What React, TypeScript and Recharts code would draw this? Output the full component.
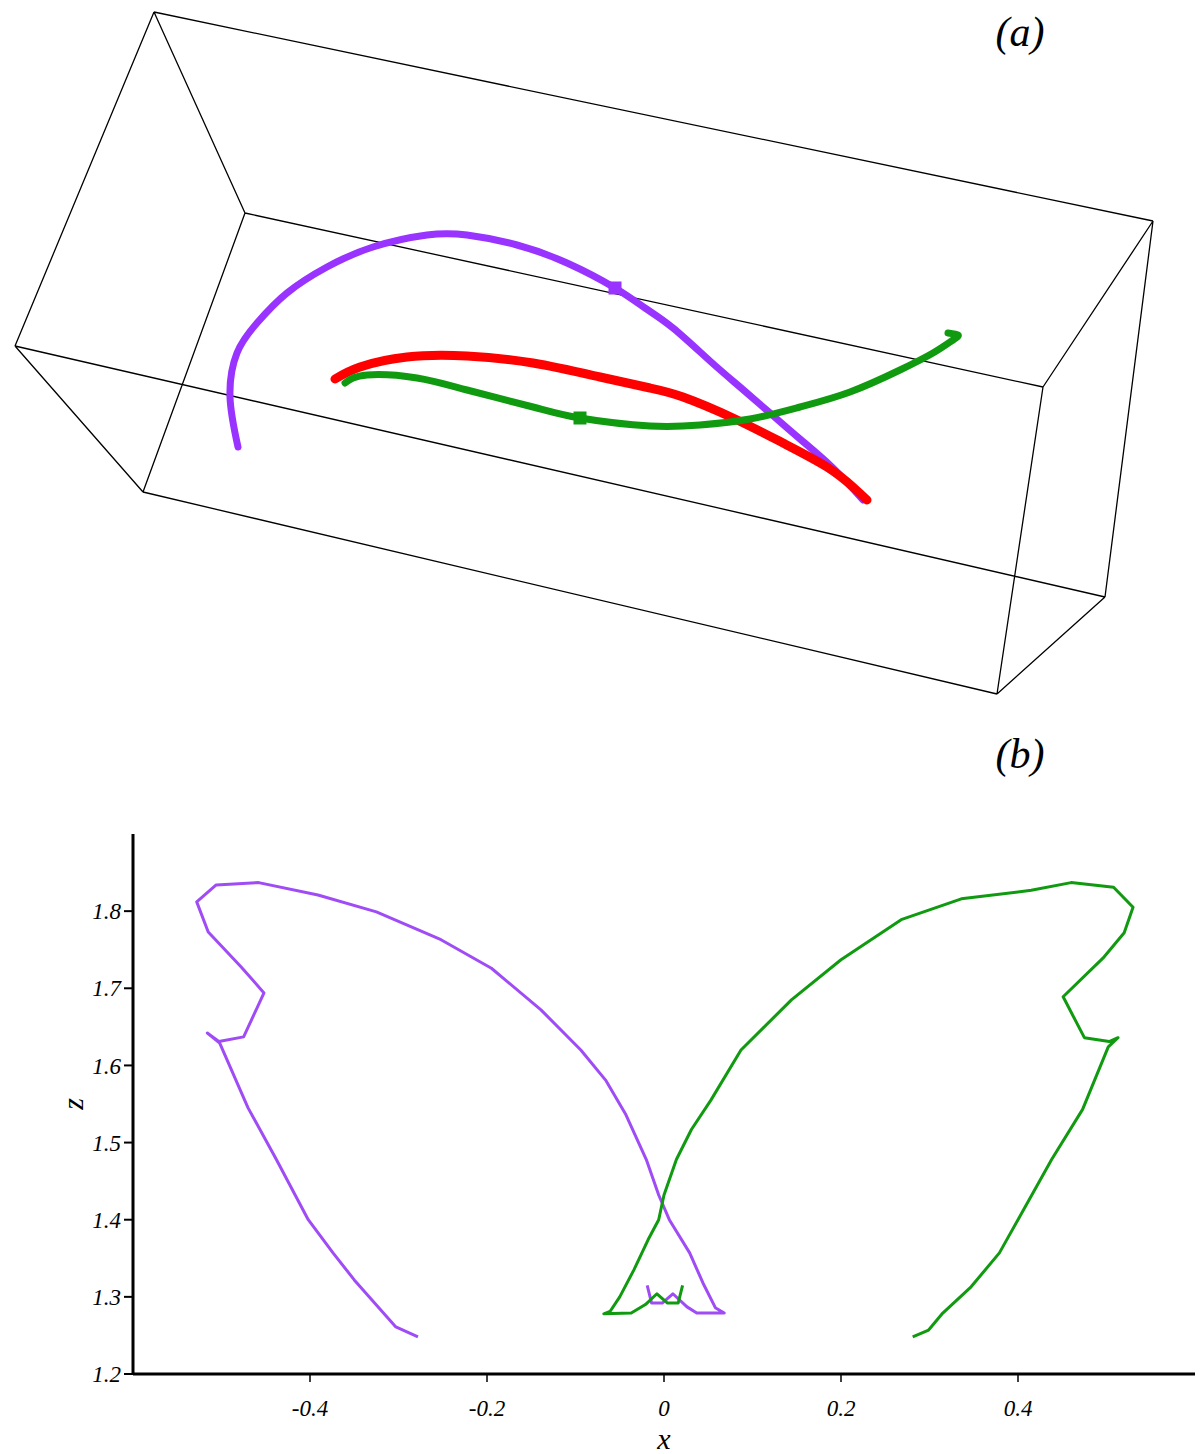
import { ComposedChart, Line, Scatter, XAxis, YAxis } from 'recharts';

// ---- (a): wire box and the three trajectories, in the projected picture plane ----
const boxCorners: Record<string, [number, number]> = {
  A: [154, 12],
  B: [245, 213],
  C: [15, 346],
  D: [143, 492],
  E: [1153, 221],
  F: [1043, 387],
  G: [1105, 597],
  H: [997, 694],
};
const boxEdges = [
  ['A', 'E'], ['B', 'F'], ['C', 'G'], ['D', 'H'],
  ['A', 'B'], ['B', 'D'], ['D', 'C'], ['C', 'A'],
  ['E', 'F'], ['F', 'H'], ['H', 'G'], ['G', 'E'],
];

const purpleA: [number, number][] = [
  [238, 447], [230, 397], [237, 353], [257, 323], [287, 293], [327, 267], [373, 247],
  [427, 235], [467, 235], [517, 245], [567, 263], [615, 288], [645, 308], [673, 328],
  [710, 361], [740, 387], [770, 413], [800, 439], [833, 468], [863, 500],
];
const redA: [number, number][] = [
  [335, 379], [360, 367], [407, 357], [467, 356], [533, 363], [600, 377], [650, 388],
  [683, 397], [733, 418], [783, 443], [827, 467], [853, 487], [867, 500],
];
const greenA: [number, number][] = [
  [345, 383], [367, 375], [417, 378], [467, 390], [533, 407], [580, 418], [650, 426],
  [700, 425], [750, 419], [800, 407], [850, 392], [900, 370], [933, 353], [953, 340],
  [958, 335], [948, 333],
];
const purpleMarkA: [number, number][] = [[615, 288]];
const greenMarkA: [number, number][] = [[580, 418]];

// ---- (b): x–z projection ----
const xTicks = [-0.4, -0.2, 0, 0.2, 0.4];
const zTicks = [1.2, 1.3, 1.4, 1.5, 1.6, 1.7, 1.8];

const purpleB: [number, number][] = [
  [-0.278, 1.248], [-0.303, 1.261], [-0.327, 1.292], [-0.35, 1.322], [-0.374, 1.357],
  [-0.402, 1.4], [-0.438, 1.478], [-0.47, 1.545], [-0.502, 1.629], [-0.516, 1.642],
  [-0.503, 1.631], [-0.475, 1.637], [-0.452, 1.694], [-0.478, 1.728], [-0.515, 1.773],
  [-0.528, 1.812], [-0.506, 1.834], [-0.458, 1.837], [-0.391, 1.821], [-0.325, 1.799],
  [-0.252, 1.763], [-0.195, 1.726], [-0.139, 1.672], [-0.094, 1.62], [-0.066, 1.581],
  [-0.043, 1.536], [-0.02, 1.478], [-0.006, 1.432], [0.006, 1.4], [0.029, 1.357],
  [0.044, 1.318], [0.058, 1.286], [0.068, 1.279], [0.037, 1.279], [0.026, 1.287],
  [0.01, 1.304], [-0.002, 1.292], [-0.014, 1.292], [-0.019, 1.315],
];
const greenB: [number, number][] = [
  [0.281, 1.248], [0.299, 1.257], [0.315, 1.279], [0.347, 1.313], [0.379, 1.357],
  [0.4, 1.4], [0.438, 1.478], [0.473, 1.543], [0.502, 1.624], [0.513, 1.636],
  [0.503, 1.631], [0.475, 1.636], [0.451, 1.689], [0.496, 1.739], [0.52, 1.772],
  [0.53, 1.805], [0.508, 1.831], [0.46, 1.837], [0.415, 1.827], [0.336, 1.816],
  [0.268, 1.789], [0.2, 1.737], [0.144, 1.685], [0.087, 1.62], [0.053, 1.555],
  [0.031, 1.517], [0.014, 1.478], [0, 1.432], [-0.006, 1.4], [-0.018, 1.374],
  [-0.034, 1.335], [-0.05, 1.3], [-0.061, 1.281], [-0.068, 1.278], [-0.037, 1.279],
  [-0.021, 1.29], [-0.008, 1.304], [0.004, 1.292], [0.016, 1.292], [0.021, 1.315],
];

const PURPLE_A = '#9933ff';
const PURPLE_B = '#a04cf6';
const GREEN = '#109a10';
const RED = '#ff0000';
const SERIF = '"Liberation Serif", "Times New Roman", serif';

const toPx = (pts: [number, number][]) => pts.map(([px, py]) => ({ px, py }));
const toXZ = (pts: [number, number][]) => pts.map(([x, z]) => ({ x, z }));

// edges joined into one series, broken by null rows
const boxRows = boxEdges.flatMap(([p, q]) => {
  const [x1, y1] = boxCorners[p];
  const [x2, y2] = boxCorners[q];
  return [{ px: x1, py: y1 }, { px: x2, py: y2 }, { px: x2, py: null }];
});

const squareMark = (size: number, color: string) => (props: any) => (
  <rect x={props.cx - size / 2} y={props.cy - size / 2} width={size} height={size} fill={color} />
);

const tickStyle = { fill: '#000', fontSize: 23, fontFamily: SERIF, fontStyle: 'italic' };

const ZLabel = (props: any) => {
  const { viewBox } = props;
  const x = viewBox.x;
  const y = viewBox.y + viewBox.height / 2;
  return (
    <text x={x} y={y} dy={10} transform={`rotate(-90, ${x}, ${y})`} textAnchor="middle"
      fontSize={30} fontFamily={SERIF} fontStyle="italic" fill="#000">
      z
    </text>
  );
};

const panelTag = { position: 'absolute' as const, width: 120, textAlign: 'center' as const,
  fontFamily: SERIF, fontStyle: 'italic', fontSize: 42, lineHeight: '42px', color: '#000' };

export default function App() {
  return (
    <div style={{ position: 'absolute', left: 0, top: 0, width: 1200, height: 1454, background: '#fff' }}>
      <div style={{ position: 'absolute', left: 0, top: 0 }}>
        <ComposedChart width={1200} height={720} margin={{ top: 0, right: 0, bottom: 0, left: 0 }}>
          <XAxis type="number" dataKey="px" domain={[0, 1200]} hide allowDataOverflow />
          <YAxis type="number" dataKey="py" domain={[0, 720]} reversed hide allowDataOverflow />
          <Line data={boxRows} dataKey="py" type="linear" stroke="#000" strokeWidth={1.3}
            dot={false} activeDot={false} isAnimationActive={false} connectNulls={false} />
          <Line data={toPx(purpleA)} dataKey="py" type="natural" stroke={PURPLE_A} strokeWidth={7}
            strokeLinecap="round" dot={false} activeDot={false} isAnimationActive={false} />
          <Scatter data={toPx(purpleMarkA)} dataKey="py" shape={squareMark(13, PURPLE_A)}
            isAnimationActive={false} />
          <Line data={toPx(redA)} dataKey="py" type="natural" stroke={RED} strokeWidth={9}
            strokeLinecap="round" dot={false} activeDot={false} isAnimationActive={false} />
          <Line data={toPx(greenA)} dataKey="py" type="natural" stroke={GREEN} strokeWidth={7}
            strokeLinecap="round" dot={false} activeDot={false} isAnimationActive={false} />
          <Scatter data={toPx(greenMarkA)} dataKey="py" shape={squareMark(13, GREEN)}
            isAnimationActive={false} />
        </ComposedChart>
      </div>
      <div style={{ ...panelTag, left: 960, top: 11 }}>(a)</div>
      <div style={{ ...panelTag, left: 960, top: 733 }}>(b)</div>

      <div style={{ position: 'absolute', left: 0, top: 800 }}>
        <ComposedChart width={1200} height={654} margin={{ top: 34, right: 5, bottom: 0, left: 73 }}>
          <XAxis type="number" dataKey="x" domain={[-0.6, 0.6]} ticks={xTicks} allowDataOverflow
            height={80} axisLine={{ stroke: '#000', strokeWidth: 3 }}
            tickLine={{ stroke: '#000', strokeWidth: 1.5 }} tickSize={8} tickMargin={18}
            tick={tickStyle}
            label={{ value: 'x', position: 'insideBottom', offset: 5, fontSize: 30,
              fontFamily: SERIF, fontStyle: 'italic', fill: '#000' }} />
          <YAxis type="number" dataKey="z" domain={[1.2, 1.9]} ticks={zTicks} allowDataOverflow
            width={60} axisLine={{ stroke: '#000', strokeWidth: 3 }}
            tickLine={{ stroke: '#000', strokeWidth: 2 }} tickSize={9} tickMargin={3}
            tick={tickStyle} label={<ZLabel />} />
          <Line data={toXZ(purpleB)} dataKey="z" type="linear" stroke={PURPLE_B} strokeWidth={3}
            strokeLinejoin="round" dot={false} activeDot={false} isAnimationActive={false} />
          <Line data={toXZ(greenB)} dataKey="z" type="linear" stroke={GREEN} strokeWidth={3}
            strokeLinejoin="round" dot={false} activeDot={false} isAnimationActive={false} />
        </ComposedChart>
      </div>
    </div>
  );
}
